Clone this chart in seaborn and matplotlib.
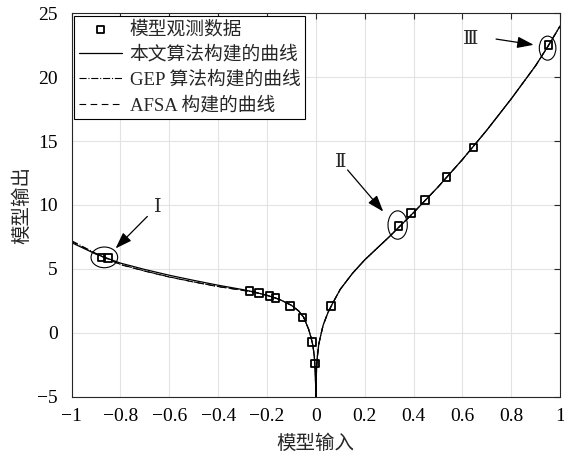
import numpy as np
import seaborn as sns
import matplotlib.pyplot as plt
from matplotlib.patches import Ellipse

# observed data (squares)
obs_x = [-0.878, -0.852, -0.271, -0.233, -0.19, -0.165, -0.105, -0.054, -0.016, -0.004,
         0.062, 0.338, 0.389, 0.446, 0.535, 0.645, 0.953]
obs_y = [5.90, 5.83, 3.27, 3.09, 2.90, 2.74, 2.11, 1.21, -0.70, -2.40,
         2.09, 8.36, 9.35, 10.39, 12.2, 14.5, 22.5]

# fitted curves
curve_x = [-1, -0.9, -0.8, -0.7, -0.6, -0.5, -0.4, -0.3, -0.25, -0.2, -0.15, -0.1, -0.07,
           -0.05, -0.03, -0.02, -0.012, -0.006, -0.003, -0.001, 0, 0.001, 0.003, 0.006,
           0.012, 0.02, 0.03, 0.05, 0.07, 0.1, 0.15, 0.2, 0.25, 0.3, 0.35, 0.4, 0.45, 0.5,
           0.6, 0.7, 0.8, 0.9, 0.95, 1.0]
ours_y = [7.05, 6.15, 5.45, 4.95, 4.50, 4.10, 3.72, 3.38, 3.18, 2.93, 2.62, 2.15, 1.70,
          1.22, 0.30, -0.35, -1.00, -1.90, -2.80, -4.00, -5.3, -4.00, -2.80, -1.90,
          -0.90, -0.20, 0.60, 1.60, 2.35, 3.40, 4.65, 5.70, 6.60, 7.50, 8.45, 9.40, 10.40,
          11.40, 13.55, 15.85, 18.30, 20.90, 22.40, 24.0]
gep_y = [7.20, 6.20, 5.35, 4.83, 4.37, 3.98, 3.62, 3.33, 3.16, 2.93, 2.62, 2.15, 1.70,
         1.22, 0.30, -0.35, -1.00, -1.90, -2.80, -4.00, -5.3, -4.00, -2.80, -1.90,
         -0.90, -0.20, 0.60, 1.60, 2.35, 3.40, 4.65, 5.70, 6.60, 7.50, 8.45, 9.40, 10.40,
         11.40, 13.55, 15.85, 18.30, 20.90, 22.40, 24.0]
afsa_y = [7.15, 6.17, 5.33, 4.82, 4.36, 3.97, 3.61, 3.32, 3.16, 2.93, 2.62, 2.15, 1.70,
          1.22, 0.30, -0.35, -1.00, -1.90, -2.80, -4.00, -5.3, -4.00, -2.80, -1.90,
          -0.90, -0.20, 0.60, 1.60, 2.35, 3.40, 4.65, 5.70, 6.60, 7.50, 8.45, 9.40, 10.40,
          11.40, 13.55, 15.85, 18.30, 20.90, 22.40, 24.0]

xticks = [-1, -0.8, -0.6, -0.4, -0.2, 0, 0.2, 0.4, 0.6, 0.8, 1]
xtick_labels = ['−1', '−0.8', '−0.6', '−0.4', '−0.2', '0', '0.2', '0.4', '0.6', '0.8', '1']
yticks = [-5, 0, 5, 10, 15, 20, 25]
ytick_labels = ['−5', '0', '5', '10', '15', '20', '25']

sns.set_style('whitegrid')
fonts = ['Liberation Serif', 'Noto Sans CJK SC']
plt.rcParams['font.family'] = fonts

fig = plt.figure(figsize=(5.64, 4.57), dpi=100)
ax = fig.add_axes([0.127, 0.132, 0.866, 0.839])

sns.lineplot(x=curve_x, y=ours_y, ax=ax, color='k', lw=0.9, label='本文算法构建的曲线', sort=False)
sns.lineplot(x=curve_x, y=gep_y, ax=ax, color='k', lw=0.8, linestyle='-.', label='GEP 算法构建的曲线', sort=False)
sns.lineplot(x=curve_x, y=afsa_y, ax=ax, color='k', lw=0.8, linestyle=(0, (6, 4)), label='AFSA 构建的曲线', sort=False)
sns.scatterplot(x=obs_x, y=obs_y, ax=ax, marker='s', s=30, facecolor='none', edgecolor='k',
                linewidth=1.3, label='模型观测数据', zorder=5)

# highlighted points
for cx, cy, w, h in [(-0.866, 5.9, 0.109, 1.62), (0.335, 8.43, 0.079, 2.22), (0.949, 22.27, 0.068, 1.88)]:
    ax.add_patch(Ellipse((cx, cy), w, h, fc='none', ec='k', lw=0.8, zorder=6))

arrow = dict(arrowstyle='-|>,head_length=1.0,head_width=0.35', color='k', lw=0.9, shrinkA=0, shrinkB=0)
ax.annotate('', xy=(-0.82, 6.6), xytext=(-0.69, 9.1), arrowprops=arrow)
ax.annotate('', xy=(0.276, 9.48), xytext=(0.13, 12.74), arrowprops=arrow)
ax.annotate('', xy=(0.892, 22.53), xytext=(0.738, 22.98), arrowprops=arrow)
roman = ['DejaVu Serif', 'Noto Sans CJK SC']
ax.text(-0.647, 9.84, 'Ⅰ', fontsize=14, ha='center', va='center', family=roman)
ax.text(0.103, 13.4, 'Ⅱ', fontsize=14, ha='center', va='center', family=roman)
ax.text(0.633, 22.98, 'Ⅲ', fontsize=14, ha='center', va='center', family=roman)

ax.set_xlim(-1, 1)
ax.set_ylim(-5, 25)
ax.set_xticks(xticks)
ax.set_xticklabels(xtick_labels, fontsize=14)
ax.set_yticks(yticks)
ax.set_yticklabels(ytick_labels, fontsize=14)
ax.tick_params(direction='in', length=4, width=0.8, color='#262626', top=True, right=True,
               labelcolor='k')
ax.tick_params(axis='x', pad=8)
ax.tick_params(axis='y', pad=10)
ax.grid(True, color='#e3e3e3', lw=0.8)
for s in ax.spines.values():
    s.set_color('#262626')
    s.set_linewidth(0.8)
ax.set_xlabel('模型输入', fontsize=14, labelpad=7)
ax.set_ylabel('模型输出', fontsize=14, labelpad=4)

handles, labels = ax.get_legend_handles_labels()
order = ['模型观测数据', '本文算法构建的曲线', 'GEP 算法构建的曲线', 'AFSA 构建的曲线']
hmap = dict(zip(labels, handles))
leg = ax.legend([hmap[k] for k in order], order, loc='upper left', bbox_to_anchor=(0, 1),
                fontsize=13.5, frameon=True, fancybox=False, framealpha=1,
                edgecolor='k', handlelength=2.3, handletextpad=0.4, labelspacing=0.4,
                borderpad=0.25, borderaxespad=0.15)
leg.get_frame().set_linewidth(0.8)

fig.savefig('out.png', dpi=100)
